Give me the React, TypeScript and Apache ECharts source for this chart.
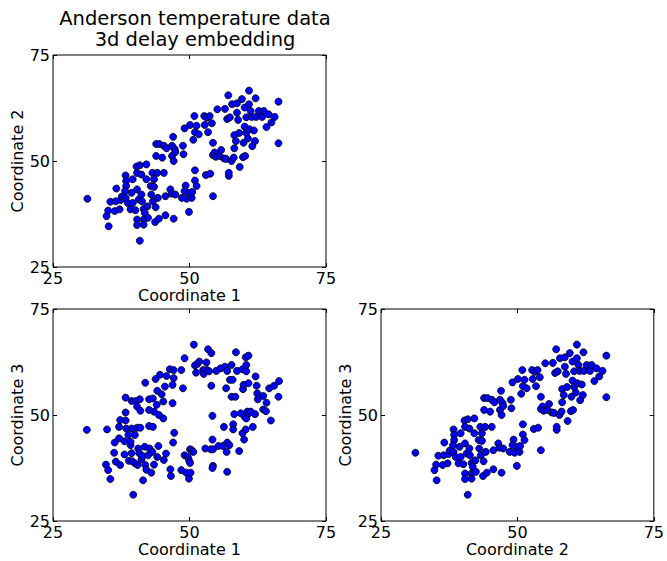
import React, { useEffect, useRef } from "react";
import * as echarts from "echarts";

// Coordinate 1 vs Coordinate 2 (same cloud as Coordinate 2 vs Coordinate 3 in a delay embedding)
const lag1Points: number[][] = [
  [31.3, 41.1], [34.8, 37.0], [35.2, 34.6], [35.1, 38.3], [35.5, 40.4], [36.5, 40.5], [36.6, 43.5],
  [36.3, 38.2], [37.2, 38.6], [37.4, 40.8], [37.6, 41.6], [38.3, 46.6], [38.4, 45.3], [38.4, 44.1],
  [38.2, 42.9], [38.3, 41.3], [38.7, 40.1], [39.2, 38.6], [39.4, 42.5], [39.6, 45.7], [39.6, 40.1],
  [40.1, 38.4], [40.3, 48.7], [40.4, 47.2], [40.4, 43.3], [40.7, 40.9], [40.4, 36.2], [40.4, 34.9],
  [40.9, 31.2], [40.9, 49.0], [41.2, 46.8], [41.2, 42.1], [41.3, 40.5], [41.6, 38.7], [41.8, 37.8],
  [41.6, 36.2], [41.6, 35.0], [42.1, 49.2], [42.1, 45.7], [42.3, 39.3], [42.4, 36.6], [42.9, 44.1],
  [43.0, 42.1], [43.3, 40.5], [43.2, 47.2], [43.5, 45.7], [43.5, 43.9], [43.8, 39.1], [43.7, 35.6],
  [43.9, 54.0], [43.9, 51.2], [44.1, 47.2], [44.4, 36.4], [44.5, 54.0], [44.2, 41.3], [45.3, 47.2],
  [45.3, 53.6], [45.6, 41.7], [45.8, 53.0], [45.6, 37.2], [45.0, 50.8], [46.5, 43.3], [46.7, 42.3],
  [46.8, 53.6], [47.0, 55.7], [46.8, 51.2], [47.1, 50.0], [47.3, 52.8], [47.1, 36.4], [47.4, 42.1],
  [47.4, 52.1], [48.6, 41.3], [48.8, 53.6], [48.9, 51.6], [49.1, 57.7], [49.3, 44.2], [49.1, 42.9],
  [49.5, 41.1], [49.9, 38.0], [49.9, 42.5], [50.1, 58.5], [50.4, 41.3], [50.5, 42.7], [50.7, 55.0],
  [50.9, 60.6], [51.0, 56.8], [51.0, 47.8], [51.0, 45.4], [51.3, 44.1], [51.7, 56.3], [51.3, 58.3],
  [52.7, 60.6], [52.8, 58.5], [53.0, 46.7], [53.2, 60.2], [53.4, 56.8], [53.7, 60.6], [53.8, 47.0],
  [54.1, 58.9], [54.3, 41.7], [54.3, 54.3], [54.3, 51.4], [54.6, 52.0], [54.8, 51.0], [55.1, 62.2],
  [55.5, 51.2], [55.8, 52.6], [56.3, 50.6], [56.5, 62.3], [56.7, 50.5], [56.9, 59.9], [57.1, 65.5],
  [57.2, 46.5], [57.2, 47.2], [57.4, 60.3], [57.7, 50.0], [57.8, 63.4], [58.1, 50.8], [58.2, 53.0],
  [58.2, 56.1], [58.5, 54.7], [58.7, 63.6], [58.7, 61.4], [58.9, 59.7], [59.1, 56.6], [59.2, 48.6],
  [59.6, 64.6], [59.8, 50.9], [59.9, 54.3], [60.1, 62.6], [60.1, 58.1], [60.2, 51.2], [60.4, 60.3],
  [60.4, 56.6], [60.7, 55.3], [60.9, 66.6], [60.9, 63.4], [61.0, 57.5], [61.2, 61.8], [61.4, 60.4],
  [61.5, 53.5], [61.8, 57.2], [62.0, 54.7], [62.1, 64.8], [62.2, 60.4], [62.7, 61.8], [63.3, 60.4],
  [63.6, 61.8], [64.1, 58.0], [64.5, 61.0], [65.0, 59.1], [65.6, 60.4], [66.3, 64.0], [66.3, 54.2],
];

// Coordinate 1 vs Coordinate 3
const lag2Points: number[][] = [
  [31.2, 46.5], [34.9, 46.6], [34.7, 38.3], [35.1, 37.0], [35.5, 34.9], [36.2, 41.1], [36.3, 43.5],
  [36.5, 39.0], [37.1, 44.5], [37.1, 47.2], [37.3, 38.2], [37.3, 48.8], [38.1, 40.7], [38.1, 43.8],
  [38.3, 54.1], [38.3, 50.6], [38.3, 48.7], [38.4, 46.8], [38.8, 45.3], [38.9, 39.2], [39.2, 42.9],
  [39.2, 43.7], [39.4, 41.0], [39.4, 46.8], [39.4, 53.3], [39.5, 39.1], [39.7, 31.2], [40.0, 45.3],
  [40.0, 38.6], [40.2, 53.3], [40.4, 47.0], [40.4, 52.0], [40.5, 38.2], [40.6, 42.1], [40.8, 41.0],
  [40.9, 53.7], [41.0, 47.0], [41.0, 51.0], [41.2, 39.5], [41.4, 40.3], [41.5, 34.6], [41.8, 42.5],
  [41.9, 57.6], [41.9, 38.2], [42.1, 37.1], [42.4, 40.5], [42.6, 53.7], [42.6, 51.2], [42.6, 47.4],
  [42.7, 42.1], [43.0, 36.4], [43.2, 41.3], [43.3, 47.2], [43.3, 53.9], [43.5, 38.3], [43.5, 50.8],
  [43.8, 58.5], [44.0, 52.4], [44.1, 40.1], [44.3, 42.7], [44.1, 55.7], [44.4, 50.0], [44.6, 59.5],
  [44.9, 54.9], [45.2, 49.2], [45.2, 53.2], [45.3, 39.4], [45.5, 56.7], [45.7, 40.9], [45.8, 59.2],
  [46.4, 60.8], [46.5, 37.2], [46.6, 35.6], [46.9, 52.8], [46.9, 57.1], [47.0, 43.5], [47.1, 60.6],
  [47.1, 58.7], [47.2, 45.8], [48.5, 37.0], [48.5, 60.6], [48.8, 56.3], [49.1, 63.4], [49.1, 40.5],
  [49.4, 36.4], [49.7, 40.1], [49.9, 39.3], [49.9, 35.0], [50.1, 38.7], [50.2, 36.4], [50.1, 41.9],
  [50.4, 41.7], [50.7, 41.3], [50.8, 66.6], [51.0, 61.7], [51.2, 60.0], [51.4, 62.0], [51.8, 62.6],
  [52.5, 60.6], [52.6, 59.7], [52.9, 42.1], [53.1, 62.4], [53.2, 60.6], [53.4, 65.5], [53.6, 60.3],
  [53.9, 41.9], [54.0, 64.6], [54.0, 56.9], [54.2, 49.8], [54.2, 44.2], [54.3, 38.0], [54.2, 37.5],
  [54.3, 41.9], [54.9, 60.4], [55.3, 42.7], [55.7, 61.0], [56.1, 42.7], [56.3, 47.2], [56.5, 61.4],
  [56.7, 56.3], [56.8, 41.3], [56.9, 60.4], [56.9, 43.5], [56.9, 36.6], [57.3, 42.9], [57.4, 58.3],
  [57.7, 61.8], [57.7, 54.3], [57.9, 58.3], [58.0, 47.8], [58.0, 46.6], [58.2, 50.2], [58.4, 54.3],
  [58.5, 64.8], [58.7, 60.4], [59.1, 41.5], [59.4, 50.4], [59.7, 60.8], [59.7, 45.7], [59.8, 56.1],
  [59.9, 57.1], [60.0, 44.2], [60.1, 49.6], [60.3, 63.6], [60.3, 46.6], [60.4, 61.8], [60.4, 60.3],
  [60.4, 49.2], [60.6, 50.8], [60.8, 64.0], [60.8, 57.5], [60.9, 50.4], [61.2, 50.8], [61.6, 47.2],
  [62.0, 50.2], [62.1, 59.1], [62.3, 56.9], [62.4, 55.1], [62.5, 53.7], [63.5, 54.5], [63.5, 51.3],
  [64.0, 50.9], [64.1, 52.9], [64.6, 56.3], [64.9, 48.7], [65.5, 56.9], [66.3, 54.3], [66.4, 58.0],
];

const titleLines = ["Anderson temperature data", "3d delay embedding"];
const panelXNames = ["Coordinate 1", "Coordinate 1", "Coordinate 2"];
const panelYNames = ["Coordinate 2", "Coordinate 3", "Coordinate 3"];
const axisMin = 25;
const axisMax = 75;
const axisStep = 25;

const FONT = "DejaVu Sans";

export default function App() {
  const ref = useRef<HTMLDivElement>(null);

  useEffect(() => {
    if (!ref.current) return;
    const chart = echarts.init(ref.current, undefined, { renderer: "svg" });

    const grids = [
      { left: 53, top: 55, width: 273, height: 212 },
      { left: 53, top: 309, width: 273, height: 212 },
      { left: 381, top: 309, width: 273, height: 212 },
    ];
    const panelData = [lag1Points, lag2Points, lag1Points];

    const base = {
      min: axisMin,
      max: axisMax,
      interval: axisStep,
      type: "value" as const,
      splitLine: { show: false },
      axisLine: { show: false },
    };
    const tick = { show: true, inside: true, length: 4, lineStyle: { color: "#000", width: 1 } };
    const label = { color: "#000", fontSize: 16, fontFamily: FONT };

    const xAxis: any[] = [];
    const yAxis: any[] = [];
    const series: any[] = [];
    grids.forEach((g, i) => {
      xAxis.push({
        ...base,
        gridIndex: i,
        position: "bottom",
        axisTick: tick,
        axisLabel: { ...label, margin: 3 },
        name: panelXNames[i],
        nameLocation: "middle",
        nameGap: 20,
        nameTextStyle: { ...label },
      });
      xAxis.push({
        ...base,
        gridIndex: i,
        position: "top",
        axisTick: tick,
        axisLabel: { show: false },
      });
      yAxis.push({
        ...base,
        gridIndex: i,
        position: "left",
        axisTick: tick,
        axisLabel: { ...label, margin: 3 },
        name: panelYNames[i],
        nameLocation: "middle",
        nameGap: 27,
        nameTextStyle: { ...label },
      });
      yAxis.push({
        ...base,
        gridIndex: i,
        position: "right",
        axisTick: tick,
        axisLabel: { show: false },
      });
      series.push({
        type: "scatter",
        xAxisIndex: i * 2,
        yAxisIndex: i * 2,
        data: panelData[i],
        symbol: "circle",
        symbolSize: 7,
        itemStyle: { color: "#0000ff", borderColor: "#000", borderWidth: 0.8, opacity: 1 },
      });
    });

    chart.setOption({
      animation: false,
      backgroundColor: "#fff",
      title: {
        text: titleLines.join("\n"),
        left: 190,
        top: 3,
        textAlign: "center",
        textStyle: { fontFamily: FONT, fontSize: 19.5, fontWeight: "normal", color: "#000", lineHeight: 21 },
      },
      grid: grids.map((g) => ({
        ...g,
        show: true,
        borderColor: "#000",
        borderWidth: 1,
        backgroundColor: "transparent",
        containLabel: false,
      })),
      xAxis,
      yAxis,
      series,
    });

    return () => chart.dispose();
  }, []);

  return (
    <div
      ref={ref}
      style={{ position: "absolute", left: 0, top: 0, width: 667, height: 561 }}
    />
  );
}
